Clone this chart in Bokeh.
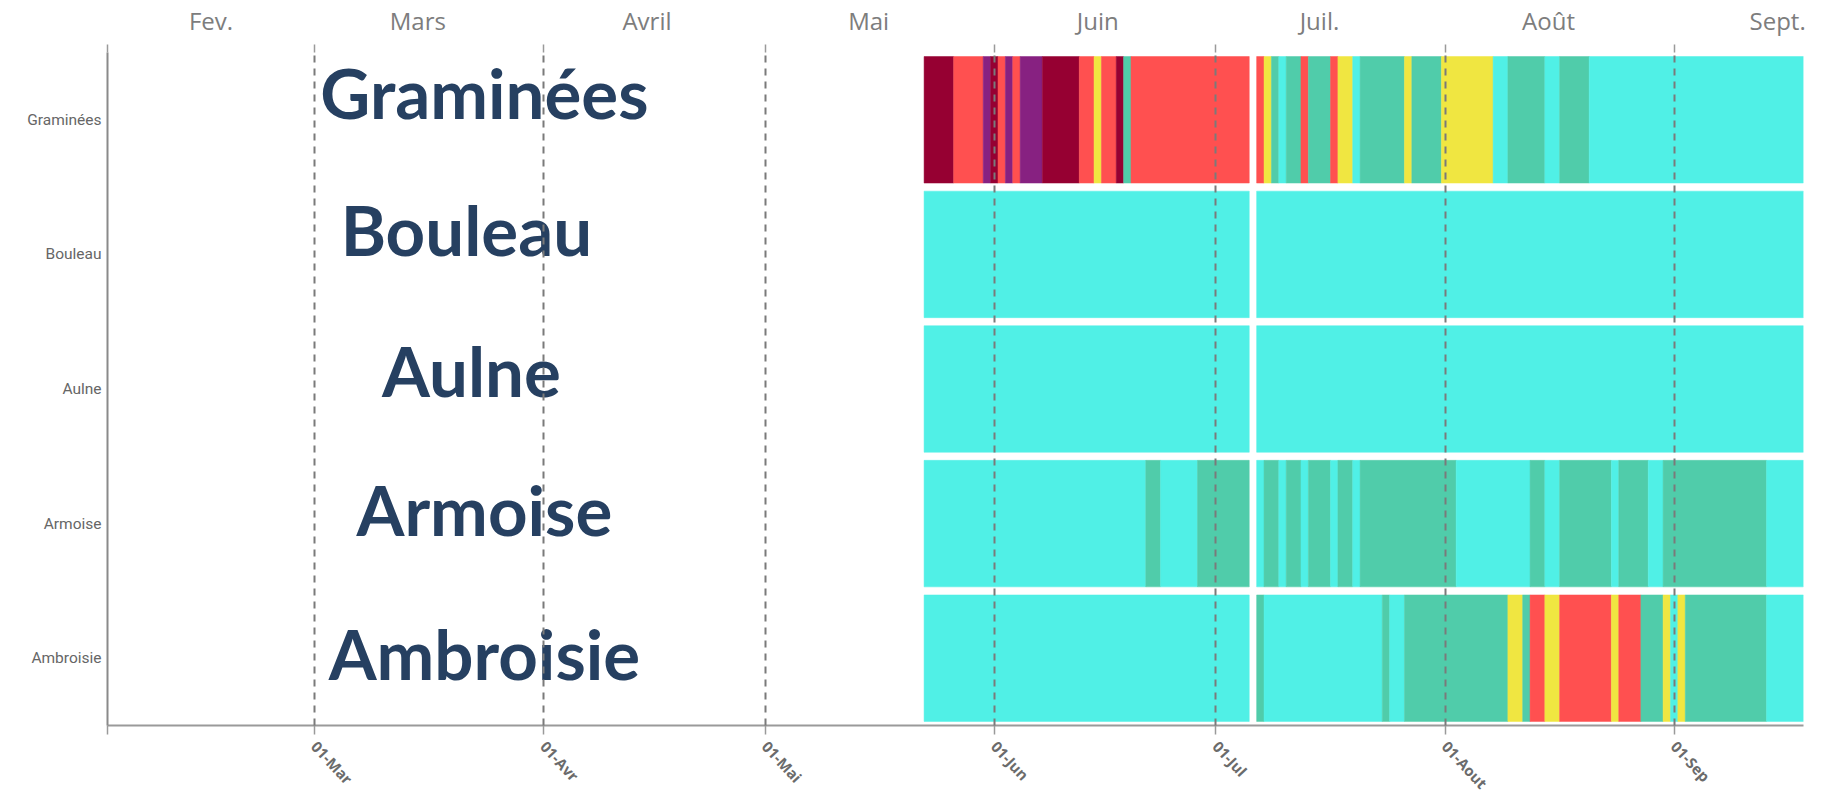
from datetime import date
from bokeh.plotting import figure
from bokeh.models import ColumnDataSource, FactorRange, Range1d, FixedTicker, LinearAxis
from bokeh.core.properties import value
from bokeh.embed import file_html
from bokeh.resources import INLINE

# ---------------- data ----------------
pollens = ["Graminées", "Bouleau", "Aulne", "Armoise", "Ambroisie"]
first_day = date(2019, 5, 23)          # first day with data (daily index levels)
origin = date(2019, 2, 1)              # left edge of the time axis

level_colors = {1: "#50F0E6", 2: "#50CCAA", 3: "#F0E641", 4: "#FF5050", 5: "#960032", 6: "#872181"}

N = None  # missing day (Jul 6)
graminees = [5, 5, 5, 5, 4, 4, 4, 4, 6, 5, 4, 6, 4, 6, 6, 6, 5, 5, 5, 5, 5, 4, 4, 3, 4, 4, 5, 2,
             4, 4, 4, 4, 4, 4, 4, 4, 4, 4, 4, 4, 4, 4, 4, 4,
             N,
             4, 3, 2, 1, 2, 2, 4, 2, 2, 2, 4, 3, 3, 1, 2, 2, 2, 2, 2, 2, 3, 2, 2, 2, 2,
             3, 3, 3, 3, 3, 3, 3, 1, 1, 2, 2, 2, 2, 2, 1, 1, 2, 2, 2, 2,
             1, 1, 1, 1, 1, 1, 1, 1, 1, 1, 1, 1, 1, 1, 1, 1, 1, 1, 1, 1, 1, 1, 1, 1, 1, 1, 1, 1, 1]
bouleau = [1, 1, 1, 1, 1, 1, 1, 1, 1, 1, 1, 1, 1, 1, 1, 1, 1, 1, 1, 1, 1, 1,
           1, 1, 1, 1, 1, 1, 1, 1, 1, 1, 1, 1, 1, 1, 1, 1, 1, 1, 1, 1, 1, 1,
           N,
           1, 1, 1, 1, 1, 1, 1, 1, 1, 1, 1, 1, 1, 1, 1, 1, 1, 1, 1, 1, 1, 1, 1, 1, 1,
           1, 1, 1, 1, 1, 1, 1, 1, 1, 1, 1, 1, 1, 1, 1, 1, 1, 1, 1, 1, 1, 1, 1, 1, 1,
           1, 1, 1, 1, 1, 1, 1, 1, 1, 1, 1, 1, 1, 1, 1, 1, 1, 1, 1, 1, 1, 1, 1, 1]
aulne = [1, 1, 1, 1, 1, 1, 1, 1, 1, 1, 1, 1, 1, 1, 1, 1, 1, 1, 1, 1, 1, 1,
         1, 1, 1, 1, 1, 1, 1, 1, 1, 1, 1, 1, 1, 1, 1, 1, 1, 1, 1, 1, 1, 1,
         N,
         1, 1, 1, 1, 1, 1, 1, 1, 1, 1, 1, 1, 1, 1, 1, 1, 1, 1, 1, 1, 1, 1, 1, 1, 1,
         1, 1, 1, 1, 1, 1, 1, 1, 1, 1, 1, 1, 1, 1, 1, 1, 1, 1, 1, 1, 1, 1, 1, 1, 1,
         1, 1, 1, 1, 1, 1, 1, 1, 1, 1, 1, 1, 1, 1, 1, 1, 1, 1, 1, 1, 1, 1, 1, 1]
armoise = [1, 1, 1, 1, 1, 1, 1, 1, 1, 1, 1, 1, 1, 1, 1, 1, 1, 1, 1, 1, 1, 1, 1, 1, 1, 1, 1, 1, 1, 1,
           2, 2, 1, 1, 1, 1, 1, 2, 2, 2, 2, 2, 2, 2,
           N,
           1, 2, 2, 1, 2, 2, 1, 2, 2, 2, 1, 2, 2, 1,
           2, 2, 2, 2, 2, 2, 2, 2, 2, 2, 2, 2, 2, 1, 1, 1, 1, 1, 1, 1, 1, 1, 1,
           2, 2, 1, 1, 2, 2, 2, 2, 2, 2, 2, 1, 2, 2, 2, 2, 1, 1,
           2, 2, 2, 2, 2, 2, 2, 2, 2, 2, 2, 2, 2, 2, 1, 1, 1, 1, 1]
ambroisie = [1, 1, 1, 1, 1, 1, 1, 1, 1, 1, 1, 1, 1, 1, 1, 1, 1, 1, 1, 1, 1, 1,
             1, 1, 1, 1, 1, 1, 1, 1, 1, 1, 1, 1, 1, 1, 1, 1, 1, 1, 1, 1, 1, 1,
             N,
             2, 1, 1, 1, 1, 1, 1, 1, 1, 1, 1, 1, 1, 1, 1, 1, 1, 2, 1, 1,
             2, 2, 2, 2, 2, 2, 2, 2, 2, 2, 2, 2, 2, 2, 3, 3, 2, 4, 4, 3, 3,
             4, 4, 4, 4, 4, 4, 4, 3, 4, 4, 4, 2, 2, 2, 3, 1, 3,
             2, 2, 2, 2, 2, 2, 2, 2, 2, 2, 2, 1, 1, 1, 1, 1]

series = [graminees, bouleau, aulne, armoise, ambroisie]

month_starts = [date(2019, m, 1) for m in range(2, 10)]
bottom_labels = ["", "01-Mar", "01-Avr", "01-Mai", "01-Jun", "01-Jul", "01-Aout", "01-Sep"]
mid_months = [date(2019, m, 15) for m in range(2, 10)]
top_labels = ["Fev.", "Mars", "Avril", "Mai", "Juin", "Juil.", "Août", "Sept."]

# ---------------- build ----------------
# consecutive days with the same level are drawn as one bar (no seams)
d0 = (first_day - origin).days
rows = {"y": [], "left": [], "right": [], "color": []}
for name, levels in zip(pollens, series):
    run_start, run_level = None, None
    for i, lv in enumerate(levels + [None]):
        if lv != run_level:
            if run_level is not None:
                rows["y"].append(name)
                rows["left"].append(d0 + run_start - 0.5)
                rows["right"].append(d0 + i - 0.5)
                rows["color"].append(level_colors[run_level])
            run_start, run_level = i, lv
src = ColumnDataSource(rows)

x_end = d0 + len(graminees) - 0.5
start_ticks = [(d - origin).days for d in month_starts]
mid_ticks = [(d - origin).days for d in mid_months]

p = figure(frame_width=1696, frame_height=673,
           x_range=Range1d(0, x_end),
           y_range=FactorRange(factors=list(reversed(pollens)), range_padding=0),
           output_backend="svg", toolbar_location=None,
           min_border_left=107, min_border_right=22, min_border_top=51, min_border_bottom=10)
p.outline_line_color = None
p.background_fill_color = "white"

p.hbar(y="y", left="left", right="right", height=0.94, fill_color="color",
       line_color="color", line_width=0.5, source=src)

# bottom axis
xa = p.xaxis[0]
xa.ticker = FixedTicker(ticks=start_ticks, minor_ticks=[])
xa.major_label_overrides = {t: l for t, l in zip(start_ticks, bottom_labels)}
xa.major_label_orientation = -0.82
xa.major_label_text_font = "Open Sans"
xa.major_label_text_font_style = "bold"
xa.major_label_text_font_size = "15px"
xa.major_label_text_color = "#6b6b6b"
xa.major_label_standoff = 9
xa.axis_line_color = "#9a9a9a"
xa.axis_line_width = 2
xa.major_tick_line_color = "#9a9a9a"
xa.major_tick_line_width = 1.5
xa.major_tick_out = 9
xa.major_tick_in = 0

# top axis with month names centered mid-month and ticks at month starts
top = LinearAxis(ticker=FixedTicker(ticks=mid_ticks, minor_ticks=start_ticks))
top.major_label_overrides = {t: l for t, l in zip(mid_ticks, top_labels)}
top.major_label_text_font = "Open Sans"
top.major_label_text_font_size = "24px"
top.major_label_text_color = "#7d7d7d"
top.major_tick_line_color = None
top.major_tick_out = 0
top.major_tick_in = 0
top.major_label_standoff = 8
top.minor_tick_line_color = "#9a9a9a"
top.minor_tick_line_width = 1.5
top.minor_tick_out = 8
top.minor_tick_in = 0
top.axis_line_color = None
p.add_layout(top, "above")

# y axis
ya = p.yaxis[0]
ya.major_tick_line_color = None
ya.minor_tick_line_color = None
ya.major_tick_out = 0
ya.major_tick_in = 0
ya.axis_line_color = "#8a8a8a"
ya.axis_line_width = 2
ya.major_label_text_font = "Roboto"
ya.major_label_text_font_size = "15.5px"
ya.major_label_text_color = "#666666"
ya.major_label_standoff = 6

# grids
p.ygrid.grid_line_color = None
p.xgrid.ticker = FixedTicker(ticks=start_ticks)
p.xgrid.grid_line_color = "#7a7a7a"
p.xgrid.grid_line_width = 2
p.xgrid.grid_line_dash = "7 6"
p.xgrid.level = "overlay"

# big pollen titles
title_x = [51, 51, 51, 51, 51]
p.text(x=title_x, y=pollens, text=pollens,
       x_offset=[0, -18, -13, 0, 0], y_offset=[-27, -25, -19, -14, -5],
       text_font=value("Lato"), text_font_style="bold", text_font_size="69px",
       text_color="#264061", text_align="center", text_baseline="alphabetic")

open("out.html", "w").write(file_html(p, INLINE))
